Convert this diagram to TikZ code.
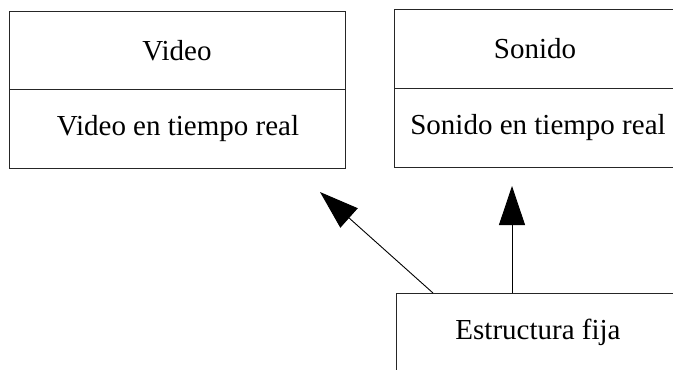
\documentclass[tikz,border=0pt]{standalone}
\usepackage{fontspec}
\setmainfont{Liberation Serif}
\usetikzlibrary{arrows.meta,calc}
\begin{document}
\begin{tikzpicture}[x=1pt,y=-1pt,
  box/.style={draw=black!85,line width=1pt,fill=white},
  lbl/.style={font=\fontsize{29}{32}\selectfont,inner sep=0pt},
  arr/.style={draw=black,line width=0.9pt,-{Triangle[length=39pt,width=26pt]}}]
\useasboundingbox (0,0) rectangle (673,370);
\clip (0,0) rectangle (673,370);
% Video box
\draw[box] (9,11) rectangle (345,168);
\draw[draw=black!85,line width=1pt] (9,89) -- (345,89);
\node[lbl] (video) at (177,51) {Video};
\node[lbl] (videort) at (178,129) {Video en tiempo real};
% Sonido box
\draw[box] (394,9) rectangle (682,167);
\draw[draw=black!85,line width=1pt] (394,88) -- (682,88);
\node[lbl] (sonido) at (535,49) {Sonido};
\node[lbl] (sonidort) at (538,128) {Sonido en tiempo real};
% Estructura box
\node[box,minimum width=286pt,minimum height=80pt,anchor=north west,inner sep=0pt] (estr) at (396,293) {};
\node[lbl] (estrl) at (538,332) {Estructura fija};
% arrow ends
\coordinate (t1) at (320,192);
\coordinate (t2) at (512,186);
\coordinate (s1) at ($(estr.north west)+(37,0)$);
\coordinate (s2) at ($(estr.north west)+(116,0)$);
\draw[arr] (s1) -- (t1);
\draw[arr] (s2) -- (t2);
\end{tikzpicture}
\end{document}
